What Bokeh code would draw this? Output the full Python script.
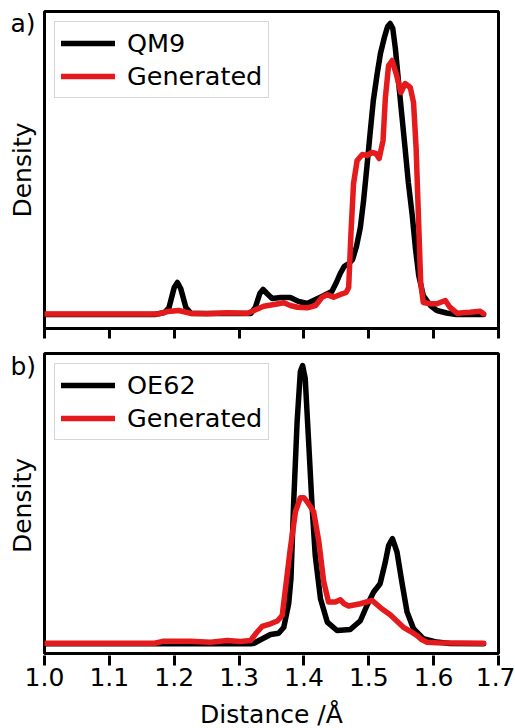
import math
from bokeh.plotting import figure
from bokeh.layouts import column, row
from bokeh.models import (Range1d, FixedTicker, NumeralTickFormatter, CustomJSTickFormatter,
                          Legend, LegendItem, Label)
from bokeh.embed import file_html
from bokeh.resources import INLINE

FONT = "DejaVu Sans"
BLACK = "#000000"
RED = "#e41a1c"

# ---- panel a: QM9 vs generated bond-length densities ----
dist_qm9 = [1.000, 1.170, 1.185, 1.192, 1.200, 1.205, 1.210, 1.218, 1.226,
            1.318, 1.325, 1.332, 1.337, 1.343, 1.351, 1.364, 1.379, 1.392, 1.405,
            1.418, 1.431, 1.443, 1.450, 1.456, 1.462, 1.469, 1.475, 1.481, 1.487,
            1.492, 1.497, 1.502, 1.507, 1.513, 1.518, 1.524, 1.529, 1.533, 1.537,
            1.541, 1.546, 1.551, 1.556, 1.561, 1.567, 1.572, 1.577, 1.584, 1.595,
            1.605, 1.620, 1.635, 1.677]
dens_qm9 = [0.0, 0.0, 0.2, 0.7, 2.7, 3.2, 2.6, 0.7, 0.1,
            0.1, 0.7, 2.1, 2.5, 2.1, 1.6, 1.7, 1.7, 1.3, 1.1,
            1.5, 1.9, 2.3, 3.2, 4.1, 4.8, 5.1, 5.5, 6.8, 8.7,
            11.4, 14.7, 18.1, 21.4, 24.1, 26.1, 27.7, 28.8, 29.1, 28.6,
            26.6, 23.2, 19.9, 16.6, 13.2, 9.9, 6.6, 3.9, 1.9, 0.9,
            0.4, 0.15, 0.0, 0.0]

dist_gen_a = [1.000, 1.175, 1.190, 1.207, 1.225, 1.251, 1.282, 1.313, 1.323, 1.338,
              1.354, 1.369, 1.379, 1.390, 1.405, 1.418, 1.428, 1.436, 1.446, 1.459,
              1.465, 1.469, 1.4725, 1.4765, 1.482, 1.490, 1.497, 1.505, 1.511, 1.516,
              1.522, 1.5255, 1.5305, 1.536, 1.543, 1.5495, 1.556, 1.564, 1.569, 1.573,
              1.5765, 1.580, 1.584, 1.595, 1.605, 1.618, 1.625, 1.636, 1.656, 1.6715,
              1.677]
dens_gen_a = [0.05, 0.05, 0.3, 0.4, 0.13, 0.07, 0.17, 0.13, 0.4, 0.83,
              1.0, 1.17, 0.9, 0.73, 0.67, 0.9, 1.73, 1.97, 1.73, 2.07,
              2.2, 2.7, 8.1, 13.1, 15.4, 16.0, 15.9, 16.2, 16.1, 15.6,
              17.4, 21.6, 24.9, 25.4, 23.9, 22.2, 23.1, 22.7, 21.2, 16.6,
              9.9, 3.2, 1.2, 1.07, 1.07, 1.4, 0.73, 0.13, 0.23, 0.33,
              0.07]

# ---- panel b: OE62 vs generated bond-length densities ----
dist_oe62 = [1.000, 1.318, 1.323, 1.336, 1.3485, 1.361, 1.369, 1.3765, 1.380, 1.384,
             1.3895, 1.3945, 1.398, 1.402, 1.407, 1.4125, 1.4175, 1.4255, 1.436, 1.451,
             1.4715, 1.487, 1.497, 1.5075, 1.5175, 1.5255, 1.5305, 1.5365, 1.5435, 1.551,
             1.559, 1.569, 1.584, 1.605, 1.625, 1.677]
dens_oe62 = [0.0, 0.0, 0.06, 0.5, 0.93, 1.06, 1.66, 4.0, 6.5, 13.8,
             22.2, 27.2, 27.8, 26.5, 20.5, 13.8, 8.8, 4.5, 2.17, 1.33,
             1.43, 2.3, 3.8, 5.17, 6.0, 8.17, 9.8, 10.5, 9.17, 6.17,
             3.17, 1.5, 0.5, 0.17, 0.03, 0.0]

dist_gen_b = [1.000, 1.170, 1.184, 1.225, 1.256, 1.282, 1.302, 1.318, 1.3255, 1.3355,
              1.3485, 1.359, 1.3665, 1.3715, 1.379, 1.387, 1.3945, 1.400, 1.405, 1.415,
              1.423, 1.4305, 1.438, 1.4485, 1.456, 1.462, 1.469, 1.487, 1.505, 1.520,
              1.533, 1.553, 1.564, 1.574, 1.582, 1.590, 1.605, 1.677]
dens_gen_b = [0.05, 0.06, 0.26, 0.26, 0.16, 0.33, 0.23, 0.33, 1.0, 1.73,
              2.0, 2.27, 2.83, 5.5, 9.5, 13.2, 14.6, 14.6, 14.2, 13.2,
              10.2, 6.2, 4.17, 4.17, 4.4, 4.0, 3.77, 4.0, 4.33, 3.5,
              2.9, 1.67, 1.25, 0.83, 0.4, 0.15, 0.1, 0.05]

x_ticks = [1.0, 1.1, 1.2, 1.3, 1.4, 1.5, 1.6, 1.7]

LEFT_W = 42          # strip with the panel tag and the "Density" label
MAIN_W = 515 - LEFT_W
X_LO, X_HI = 1.0, 1.7


def style_ticks(axis):
    axis.ticker = FixedTicker(ticks=x_ticks)
    axis.axis_line_color = None
    axis.major_tick_out = 10
    axis.major_tick_in = 0
    axis.major_tick_line_width = 3
    axis.major_tick_line_color = "black"
    axis.minor_tick_line_color = None
    axis.major_label_text_font = FONT
    axis.major_label_text_color = "black"


def side_strip(height, border_top, border_bottom, tag, tag_y, label_y):
    """Left strip beside a panel, with the same top/bottom borders so the frames
    line up. Its ranges count pixels: x from the left, y downward (negated)."""
    top = -border_top
    bottom = -(height - border_bottom)
    s = figure(width=LEFT_W, height=height, output_backend="svg", toolbar_location=None,
               x_range=Range1d(0, LEFT_W), y_range=Range1d(bottom, top),
               x_axis_type=None, y_axis_type=None,
               min_border_left=0, min_border_right=0,
               min_border_top=border_top, min_border_bottom=border_bottom)
    s.outline_line_color = None
    s.background_fill_color = "white"
    s.border_fill_color = "white"
    s.xgrid.visible = False
    s.ygrid.visible = False
    s.add_layout(Label(x=10, y=-tag_y, text=tag, text_font=FONT,
                       text_font_size="25px", text_color="black",
                       text_align="left", text_baseline="middle"))
    s.add_layout(Label(x=22, y=-label_y, text="Density", angle=math.pi / 2,
                       text_font=FONT, text_font_size="25px", text_color="black",
                       text_align="center", text_baseline="middle"))
    return s


def main_panel(ref_name, ref_x, ref_y, gen_x, gen_y, y_lo, y_hi,
               height, border_top, border_bottom, with_ticks):
    p = figure(width=MAIN_W, height=height, output_backend="svg", toolbar_location=None,
               x_range=Range1d(X_LO, X_HI), y_range=Range1d(y_lo, y_hi),
               y_axis_type=None, x_axis_type="linear" if with_ticks else None,
               min_border_left=2, min_border_right=17,
               min_border_top=border_top, min_border_bottom=border_bottom)
    p.background_fill_color = "white"
    p.border_fill_color = "white"
    p.outline_line_color = "black"
    p.outline_line_width = 3
    p.xgrid.visible = False
    p.ygrid.visible = False

    r_ref = p.line(ref_x, ref_y, line_color=BLACK, line_width=5.5,
                   line_join="round", line_cap="round")
    r_gen = p.line(gen_x, gen_y, line_color=RED, line_width=5.5,
                   line_join="round", line_cap="round")

    if with_ticks:
        # tick marks only; the distance labels sit under the lower panel
        xa = p.xaxis[0]
        style_ticks(xa)
        xa.formatter = CustomJSTickFormatter(code="return ''")
        xa.major_label_text_font_size = "0px"
        xa.major_label_standoff = 0

    legend = Legend(items=[LegendItem(label=ref_name, renderers=[r_ref]),
                           LegendItem(label="Generated", renderers=[r_gen])],
                    location="top_left", margin=10, padding=6, spacing=3,
                    glyph_width=54, glyph_height=28, label_height=28,
                    label_standoff=12,
                    label_text_font=FONT, label_text_font_size="25.5px",
                    label_text_color="black",
                    border_line_color="#cccccc", border_line_alpha=0.8,
                    border_line_width=1,
                    background_fill_color="white", background_fill_alpha=0.8)
    p.add_layout(legend)
    return p


def distance_axis(height):
    """Shared distance axis under the lower panel (ticks, labels, title)."""
    a = figure(width=515, height=height, output_backend="svg", toolbar_location=None,
               x_range=Range1d(X_LO, X_HI), y_range=Range1d(0, 1), y_axis_type=None,
               min_border_left=44, min_border_right=17,
               min_border_top=0, min_border_bottom=height - 1)
    a.outline_line_color = None
    a.background_fill_color = "white"
    a.border_fill_color = "white"
    a.xgrid.visible = False
    a.ygrid.visible = False
    xa = a.xaxis[0]
    style_ticks(xa)
    xa.formatter = NumeralTickFormatter(format="0.0")
    xa.major_label_text_font_size = "25px"
    xa.major_label_standoff = 2
    xa.axis_label = "Distance /Å"
    xa.axis_label_text_font = FONT
    xa.axis_label_text_font_size = "25px"
    xa.axis_label_text_font_style = "normal"
    xa.axis_label_text_color = "black"
    xa.axis_label_standoff = 11
    return a


# upper panel: frame 11..328 px
top_side = side_strip(340, 11, 12, "a)", 23, 169.5)
top_main = main_panel("QM9", dist_qm9, dens_qm9, dist_gen_a, dens_gen_a,
                      -1.4, 30.3, 340, 11, 12, True)

# lower panel: frame 353..653 px
bottom_side = side_strip(315, 13, 2, "b)", 26, 165)
bottom_main = main_panel("OE62", dist_oe62, dens_oe62, dist_gen_b, dens_gen_b,
                         -0.97, 29.0, 315, 13, 2, False)

axis_row = distance_axis(73)

page = column(row(top_side, top_main, spacing=0),
              row(bottom_side, bottom_main, spacing=0),
              axis_row, spacing=0)
open("out.html", "w").write(file_html(page, INLINE))
